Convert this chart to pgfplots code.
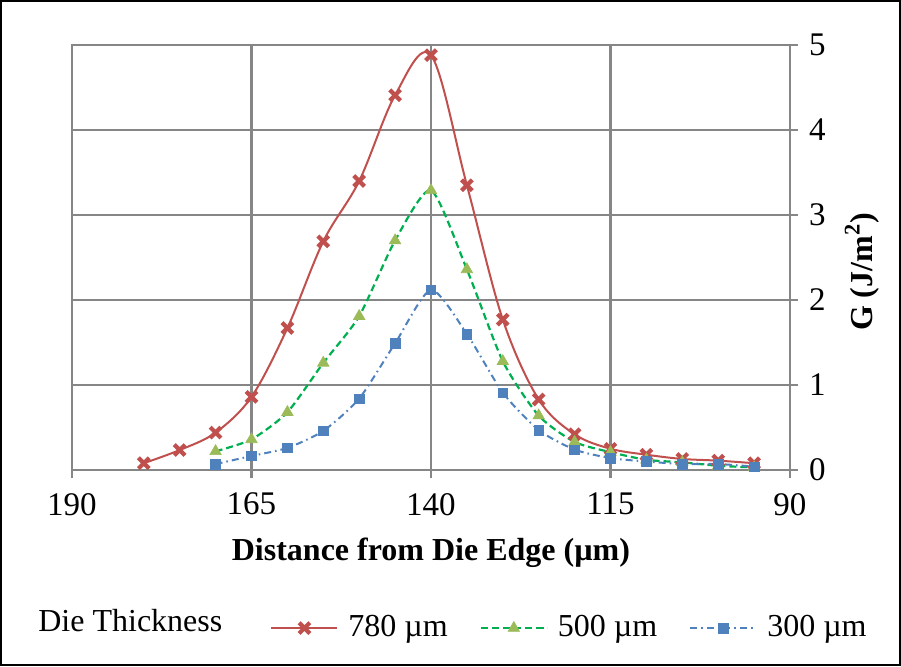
\documentclass[border=0pt]{standalone}
\usepackage{pgfplots}
\pgfplotsset{compat=1.18}
\usepackage{fontspec}
\setmainfont{Liberation Serif}
\definecolor{cred}{HTML}{C0504D}
\definecolor{cgreen}{HTML}{00B050}
\definecolor{cgreenm}{HTML}{9BBB59}
\definecolor{cblue}{HTML}{4F81BD}
\definecolor{cgrid}{HTML}{868686}
\begin{document}
\fontsize{16}{19}\selectfont
\begin{tikzpicture}
\useasboundingbox (0,0) rectangle (450.5pt,333pt);
\draw[line width=0.8pt] (0.5pt,0.5pt) rectangle (450pt,332.5pt);
\begin{axis}[
  at={(36pt,98pt)}, anchor=south west,
  scale only axis, width=359pt, height=212.5pt,
  xmin=90, xmax=190, x dir=reverse, ymin=0, ymax=5,
  xtick={90,115,140,165,190}, ytick={0,1,2,3,4,5},
  grid=major, grid style={cgrid, line width=1.3pt},
  axis line style={cgrid, line width=1.3pt},
  major tick style={cgrid, line width=1.3pt},
  tick align=outside, major tick length=4pt,
  xtick pos=bottom, ytick pos=right,
  yticklabel pos=right,
  /pgf/number format/assume math mode=true,
  ticklabel style={font=\fontsize{16.5}{19}\selectfont, text=black},
  xticklabel style={anchor=north, yshift=-2pt},
  yticklabel style={anchor=west, xshift=0pt},
  xlabel={\textbf{Distance from Die Edge (µm)}},
  ylabel={\textbf{G (J/m\textsuperscript{2})}},
  xlabel style={at={(axis description cs:0.5,-0.195)}, anchor=center, font=\fontsize{16}{19}\selectfont},
  ylabel style={at={(axis description cs:1.100,0.466)}, anchor=center, font=\fontsize{16}{19}\selectfont},
  clip=false,
  legend columns=3,
  legend style={at={(axis description cs:0.2758,-0.372)}, anchor=west, draw=none, fill=none, inner sep=0pt,
    font=\fontsize{16}{19}\selectfont, /tikz/every even column/.append style={column sep=16pt},
    nodes={inner sep=0pt}, /tikz/every odd column/.append style={column sep=5pt}},
  legend image code/.code={\draw[mark repeat=2,mark phase=2,#1] plot coordinates {(0pt,0pt) (16.5pt,0pt) (33pt,0pt)};},
]
\addplot[cred, line width=1pt, smooth, tension=0.55, mark=x, mark size=3.8pt, mark options={solid, line width=2.1pt}]
coordinates {(180,0.08)(175,0.235)(170,0.44)(165,0.86)(160,1.67)(155,2.69)(150,3.40)(145,4.41)(140,4.88)(135,3.35)(130,1.77)(125,0.83)(120,0.42)(115,0.25)(110,0.18)(105,0.13)(100,0.11)(95,0.08)};
\addlegendentry{780 µm}
\addplot[cgreen, line width=1.1pt, smooth, tension=0.4, dash pattern=on 3.5pt off 2pt, mark=triangle*, mark size=3.3pt, mark options={solid, fill=cgreenm, draw=cgreenm, line width=0.3pt}]
coordinates {(170,0.22)(165,0.36)(160,0.68)(155,1.26)(150,1.81)(145,2.70)(140,3.29)(135,2.36)(130,1.28)(125,0.64)(120,0.33)(115,0.21)(110,0.12)(105,0.09)(100,0.05)(95,0.03)};
\addlegendentry{500 µm}
\addplot[cblue, line width=1pt, smooth, tension=0.4, dash pattern=on 3.5pt off 2pt on 0.8pt off 2pt, mark=square*, mark size=2.4pt, mark options={solid, fill=cblue, draw=cblue, line width=0.3pt}]
coordinates {(170,0.07)(165,0.165)(160,0.26)(155,0.46)(150,0.84)(145,1.49)(140,2.12)(135,1.60)(130,0.91)(125,0.47)(120,0.24)(115,0.14)(110,0.10)(105,0.07)(100,0.07)(95,0.04)};
\addlegendentry{300 µm}
\node[anchor=west, inner sep=0pt, font=\fontsize{16}{19}\selectfont] at (axis description cs:-0.0474,-0.355) {Die Thickness};
\end{axis}
\end{tikzpicture}
\end{document}
